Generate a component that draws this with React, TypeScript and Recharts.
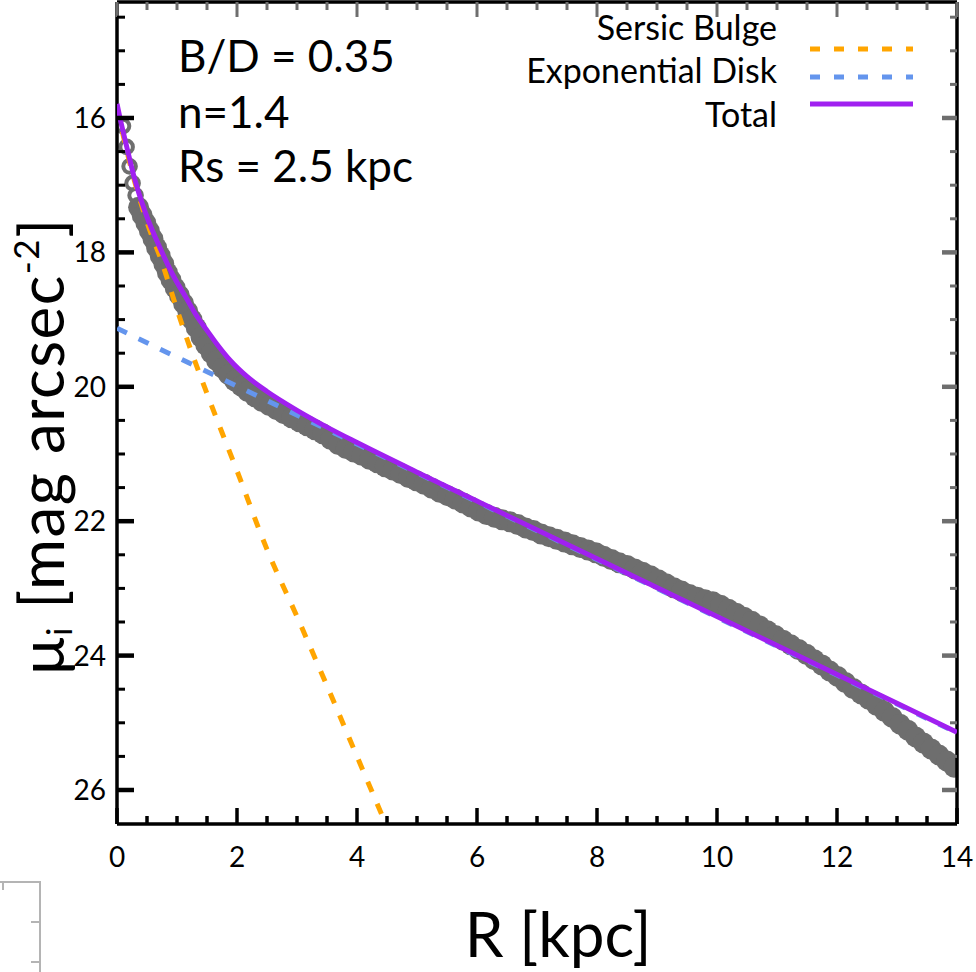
import React from "react";
import { ComposedChart, Line, Scatter, XAxis, YAxis } from "recharts";

const FONT = "Lato, 'Open Sans', sans-serif";
const GREY = "#6e6e6e";

const profileR = [
  0.1, 0.16, 0.21, 0.26, 0.31, 0.36, 0.42, 0.48, 0.54, 0.6, 0.66, 0.72, 0.78, 0.84, 0.9,
  0.97, 1.04, 1.11, 1.18, 1.25, 1.32, 1.4, 1.48, 1.57, 1.66, 1.76, 1.86, 1.96, 2.07, 2.18,
  2.3, 2.42, 2.54, 2.66, 2.78, 2.91, 3.04, 3.17, 3.3, 3.43, 3.56, 3.69, 3.82, 3.95, 4.08,
  4.21, 4.34, 4.47, 4.6, 4.73, 4.86, 4.99, 5.12, 5.25, 5.38, 5.51, 5.64, 5.77, 5.9, 6.03,
  6.16, 6.29, 6.42, 6.55, 6.68, 6.81, 6.94, 7.07, 7.2, 7.33, 7.46, 7.59, 7.72, 7.85, 7.98,
  8.11, 8.24, 8.37, 8.5, 8.63, 8.76, 8.89, 9.02, 9.15, 9.28, 9.41, 9.54, 9.67, 9.8, 9.93,
  10.06, 10.19, 10.32, 10.45, 10.58, 10.71, 10.84, 10.97, 11.1, 11.23, 11.36, 11.49, 11.62,
  11.75, 11.88, 12.01, 12.14, 12.27, 12.4, 12.53, 12.66, 12.79, 12.92, 13.05, 13.18, 13.31,
  13.44, 13.57, 13.7, 13.83, 13.95,
];
const profileMu = [
  16.12, 16.43, 16.72, 16.97, 17.15, 17.33, 17.45, 17.56, 17.68, 17.8, 17.93, 18.05, 18.17,
  18.3, 18.41, 18.53, 18.64, 18.76, 18.88, 19.0, 19.12, 19.26, 19.38, 19.5, 19.61, 19.72,
  19.82, 19.91, 19.99, 20.07, 20.15, 20.22, 20.28, 20.34, 20.4, 20.46, 20.52, 20.58, 20.64,
  20.7, 20.78, 20.86, 20.92, 20.97, 21.02, 21.08, 21.13, 21.19, 21.24, 21.29, 21.35, 21.4,
  21.45, 21.51, 21.57, 21.62, 21.67, 21.73, 21.79, 21.85, 21.9, 21.94, 21.98, 22.01, 22.05,
  22.1, 22.14, 22.19, 22.23, 22.27, 22.31, 22.35, 22.39, 22.43, 22.47, 22.52, 22.57, 22.62,
  22.66, 22.71, 22.76, 22.81, 22.87, 22.93, 22.99, 23.04, 23.09, 23.13, 23.17, 23.2, 23.25,
  23.31, 23.37, 23.43, 23.49, 23.56, 23.63, 23.7, 23.77, 23.84, 23.91, 23.98, 24.06, 24.14,
  24.23, 24.31, 24.4, 24.49, 24.57, 24.65, 24.74, 24.83, 24.92, 25.02, 25.11, 25.21, 25.3,
  25.39, 25.48, 25.57, 25.66,
];

// model components
const bulgeR = [0, 0.25, 0.5, 0.75, 1, 1.25, 1.5, 1.75, 2, 2.5, 3, 3.5, 4, 4.5];
const bulgeMu = [15.85, 16.8, 17.55, 18.15, 18.85, 19.5, 20.1, 20.68, 21.25, 22.42, 23.42, 24.45, 25.5, 26.55];

const diskR = [0, 2, 4, 6, 8, 10, 12, 14];
const diskMu = [19.13, 19.99, 20.85, 21.71, 22.57, 23.43, 24.29, 25.15];

const totalR = [0, 0.05, 0.16, 0.28, 0.47, 0.72, 0.97, 1.15, 1.31, 1.5, 1.67, 1.9, 2.17, 2.5, 3, 3.5, 4, 5, 6, 8, 10, 12, 14];
const totalMu = [15.79, 16.0, 16.42, 16.86, 17.4, 17.94, 18.4, 18.67, 18.92, 19.16, 19.37, 19.62, 19.85, 20.07, 20.35, 20.6, 20.83, 21.27, 21.7, 22.56, 23.42, 24.28, 25.14];

// ticks
const xTicks = [0, 0.5, 1, 1.5, 2, 2.5, 3, 3.5, 4, 4.5, 5, 5.5, 6, 6.5, 7, 7.5, 8, 8.5, 9, 9.5, 10, 10.5, 11, 11.5, 12, 12.5, 13, 13.5, 14];
const xLabels = [0, 2, 4, 6, 8, 10, 12, 14];
const yTicks = [14.5, 15, 15.5, 16, 16.5, 17, 17.5, 18, 18.5, 19, 19.5, 20, 20.5, 21, 21.5, 22, 22.5, 23, 23.5, 24, 24.5, 25, 25.5, 26];
const yLabels = [16, 18, 20, 22, 24, 26];

const zip = (rs: number[], mus: number[]) => rs.map((r, i) => ({ r, mu: mus[i] }));
const profile = zip(profileR, profileMu);
const bulge = zip(bulgeR, bulgeMu);
const disk = zip(diskR, diskMu);
const total = zip(totalR, totalMu);

const labelStyle = { fontFamily: FONT, fontSize: 28, fill: "#000" };

function BottomTick({ x, y, payload }: any) {
  const major = xLabels.includes(payload.value);
  return (
    <g>
      <line x1={x} x2={x} y1={y} y2={y - (major ? 16 : 8)} stroke="#000" strokeWidth={3.5} />
      {major && (
        <text x={x} y={y + 43} textAnchor="middle" style={labelStyle}>
          {payload.value}
        </text>
      )}
    </g>
  );
}

function TopTick({ x, y, payload }: any) {
  const major = xLabels.includes(payload.value);
  return <line x1={x} x2={x} y1={y} y2={y + (major ? 15 : 8)} stroke={GREY} strokeWidth={3} />;
}

function LeftTick({ x, y, payload }: any) {
  const major = yLabels.includes(payload.value);
  return (
    <g>
      <line x1={x} x2={x + (major ? 17 : 8)} y1={y} y2={y} stroke="#000" strokeWidth={major ? 4.5 : 3} />
      {major && (
        <text x={x - 11} y={y + 10} textAnchor="end" style={labelStyle}>
          {payload.value}
        </text>
      )}
    </g>
  );
}

function RightTick({ x, y, payload }: any) {
  const major = yLabels.includes(payload.value);
  return <line x1={x} x2={x - (major ? 15 : 7)} y1={y} y2={y} stroke={GREY} strokeWidth={major ? 4.5 : 3} />;
}

function ProfileDot(props: any) {
  const { cx, cy, payload } = props;
  if (payload.r < 0.34) {
    return <circle cx={cx} cy={cy} r={6.3} fill="none" stroke={GREY} strokeWidth={4} />;
  }
  return <circle cx={cx} cy={cy} r={10.5} fill={GREY} />;
}

const Y_DOMAIN: [number, number] = [14.274, 26.506];

export default function App() {
  return (
    <div style={{ position: "absolute", left: 0, top: 0, width: 976, height: 972, background: "#fff" }}>
      <ComposedChart width={976} height={972} margin={{ top: 0, right: 9, bottom: 88, left: 57 }}>
        <XAxis
          dataKey="r"
          type="number"
          domain={[0, 14]}
          ticks={xTicks}
          interval={0}
          allowDataOverflow
          height={60}
          tickSize={0}
          tickMargin={0}
          tickLine={false}
          axisLine={{ stroke: "#000", strokeWidth: 3.5 }}
          tick={<BottomTick />}
        />
        <XAxis
          xAxisId="top"
          orientation="top"
          dataKey="r"
          type="number"
          domain={[0, 14]}
          ticks={xTicks}
          interval={0}
          allowDataOverflow
          height={2}
          tickSize={0}
          tickMargin={0}
          tickLine={false}
          axisLine={{ stroke: "#000", strokeWidth: 3.5 }}
          tick={<TopTick />}
        />
        <YAxis
          dataKey="mu"
          type="number"
          domain={Y_DOMAIN}
          reversed
          ticks={yTicks}
          interval={0}
          allowDataOverflow
          width={60}
          tickSize={0}
          tickMargin={0}
          tickLine={false}
          axisLine={{ stroke: "#000", strokeWidth: 3.5 }}
          tick={<LeftTick />}
        />
        <YAxis
          yAxisId="right"
          orientation="right"
          dataKey="mu"
          type="number"
          domain={Y_DOMAIN}
          reversed
          ticks={yTicks}
          interval={0}
          allowDataOverflow
          width={10}
          tickSize={0}
          tickMargin={0}
          tickLine={false}
          axisLine={{ stroke: "#000", strokeWidth: 3.5 }}
          tick={<RightTick />}
        />
        <Scatter
          data={profile}
          dataKey="mu"
          shape={<ProfileDot />}
          zIndex={300}
          isAnimationActive={false}
        />
        <Line
          data={bulge}
          dataKey="mu"
          type="monotone"
          stroke="#ffa500"
          strokeWidth={5}
          strokeDasharray="11 13"
          dot={false}
          activeDot={false}
          zIndex={700}
          isAnimationActive={false}
        />
        <Line
          data={disk}
          dataKey="mu"
          type="linear"
          stroke="#6495ed"
          strokeWidth={5}
          strokeDasharray="11 13"
          dot={false}
          activeDot={false}
          zIndex={710}
          isAnimationActive={false}
        />
        <Line
          data={total}
          dataKey="mu"
          type="monotone"
          stroke="#a020f0"
          strokeWidth={5}
          dot={false}
          activeDot={false}
          zIndex={720}
          isAnimationActive={false}
        />
      </ComposedChart>

      <svg
        width={976}
        height={972}
        style={{ position: "absolute", left: 0, top: 0, pointerEvents: "none" }}
      >
        {/* fit parameters */}
        <g style={{ fontFamily: FONT, fontSize: 44, fill: "#000" }}>
          <text x={178} y={72}>B/D = 0.35</text>
          <text x={178} y={128}>n=1.4</text>
          <text x={178} y={182}>Rs = 2.5 kpc</text>
        </g>

        {/* legend */}
        <g style={{ fontFamily: FONT, fontSize: 34, fill: "#000" }} textAnchor="end">
          <text x={777} y={40}>Sersic Bulge</text>
          <text x={777} y={83}>Exponential Disk</text>
          <text x={777} y={127}>Total</text>
        </g>
        <line x1={810} x2={913} y1={49} y2={49} stroke="#ffa500" strokeWidth={5} strokeDasharray="10 14" />
        <line x1={810} x2={913} y1={77} y2={77} stroke="#6495ed" strokeWidth={5} strokeDasharray="10 14" />
        <line x1={810} x2={913} y1={104} y2={104} stroke="#a020f0" strokeWidth={5} />

        {/* axis titles */}
        <text x={558} y={957} textAnchor="middle" style={{ fontFamily: FONT, fontSize: 62, fill: "#000" }}>
          R [kpc]
        </text>
        <text
          x={64}
          y={446}
          transform="rotate(-90 64 446)"
          textAnchor="middle"
          style={{ fontFamily: FONT, fontSize: 62, letterSpacing: 1.5, fill: "#000" }}
        >
          μ<tspan fontSize={35} dy={8}>i</tspan>
          <tspan dy={-8}> [mag arcsec</tspan>
          <tspan fontSize={35} dy={-25}>-2</tspan>
          <tspan dy={25}>]</tspan>
        </text>

        {/* cropped fragment of a neighbouring panel */}
        <g stroke="#b4b4b4" strokeWidth={2} fill="none">
          <path d="M0 882 H40 V972" />
          <line x1={3} x2={3} y1={882} y2={890} />
          <line x1={31} x2={40} y1={922} y2={922} />
          <line x1={31} x2={40} y1={962} y2={962} />
        </g>
      </svg>
    </div>
  );
}
